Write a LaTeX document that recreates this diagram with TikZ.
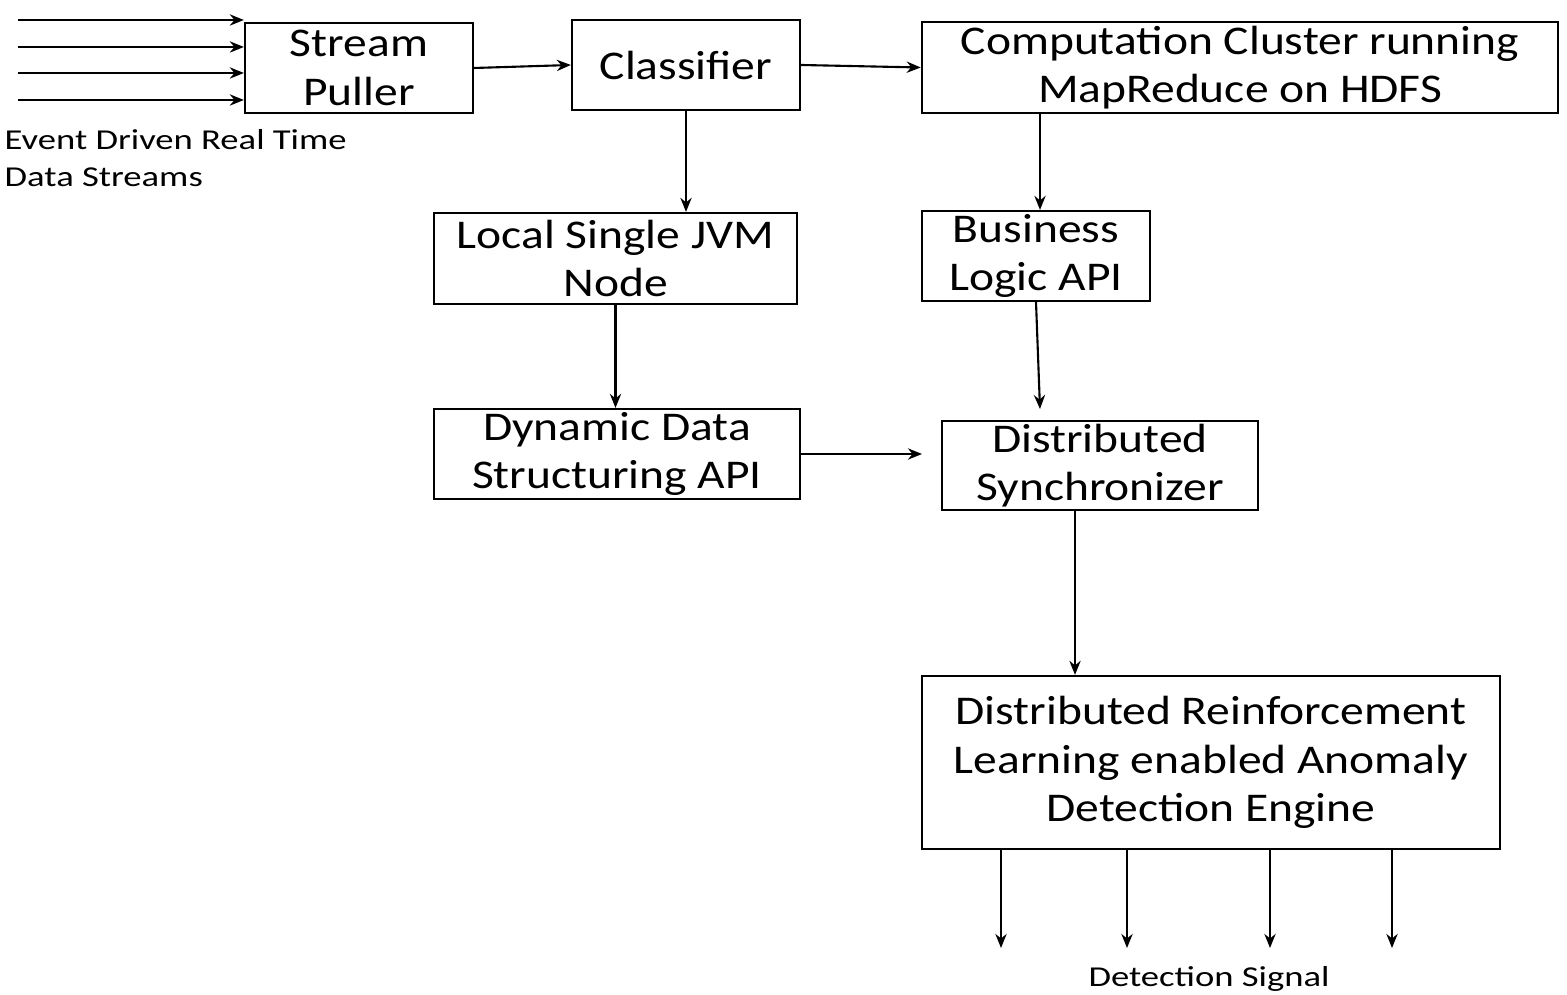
\documentclass[tikz,border=0pt]{standalone}
\usepackage{fontspec}
\setmainfont{Carlito}
\newfontfamily\boxfont[FakeStretch=1.165]{Carlito}
\newfontfamily\lblfont[FakeStretch=1.27]{Carlito}
\usetikzlibrary{arrows.meta}
\begin{document}
\begin{tikzpicture}[x=0.01cm,y=-0.01cm,
  box/.style={draw,line width=0.6pt,inner sep=0pt,align=center,font=\boxfont\fontsize{11.6}{13.7}\selectfont},
  lbl/.style={inner sep=0pt,align=left,font=\lblfont\fontsize{8.2}{10.5}\selectfont},
  arr/.style={line width=0.6pt,-{Stealth[length=4pt,width=3.2pt]}}]
\useasboundingbox (0,0) rectangle (1567,995);
\node[box,minimum width=2.28cm,minimum height=0.90cm] (sp) at (359,68) {Stream\\Puller};
\node[box,minimum width=2.28cm,minimum height=0.90cm] (cl) at (686,65) {Classifier};
\node[box,minimum width=6.36cm,minimum height=0.91cm] (cc) at (1240,67.5) {Computation Cluster running\\MapReduce on HDFS};
\node[box,minimum width=3.63cm,minimum height=0.91cm] (jvm) at (615.5,258.5) {Local Single JVM\\Node};
\node[box,minimum width=2.28cm,minimum height=0.90cm] (bl) at (1036,256) {Business\\Logic API};
\node[box,minimum width=3.66cm,minimum height=0.90cm] (dd) at (617,454) {Dynamic Data\\Structuring API};
\node[box,minimum width=3.16cm,minimum height=0.89cm] (ds) at (1100,465.5) {Distributed\\Synchronizer};
\node[box,minimum width=5.78cm,minimum height=1.73cm] (ae) at (1211,762.5) {Distributed Reinforcement\\Learning enabled Anomaly\\Detection Engine};
\node[lbl,anchor=north west] (ev) at (4,129) {Event Driven Real Time\\Data Streams};
\node[lbl,anchor=center] (sig) at (1209,979) {Detection Signal};
% inputs
\foreach \i/\y in {1/20,2/47,3/73,4/100}{
  \coordinate (i\i) at (18,\y);
  \draw[arr] (i\i) -- (i\i -| sp.west);
}
\draw[arr] (sp.east) -- (cl.west);
\draw[arr] (cl.east) -- (cc.west);
\draw[arr] (cl.south) -- (cl.south |- jvm.north);
\draw[arr] (jvm.south) -- (jvm.south |- dd.north);
\coordinate (cx) at (1040,0);
\draw[arr] (cc.south -| cx) -- (bl.north -| cx);
\coordinate (bs) at (1040,409);
\draw[arr] (bl.south) -- (bs);
\coordinate (ds1) at (922,454);
\draw[arr] (dd.east) -- (ds1);
\coordinate (sx) at (1075,0);
\draw[arr] (ds.south -| sx) -- (ae.north -| sx);
\foreach \i/\x in {1/1001,2/1127,3/1270,4/1392}{
  \coordinate (o\i) at (\x,948);
  \draw[arr] (ae.south -| o\i) -- (o\i);
}
\end{tikzpicture}
\end{document}
